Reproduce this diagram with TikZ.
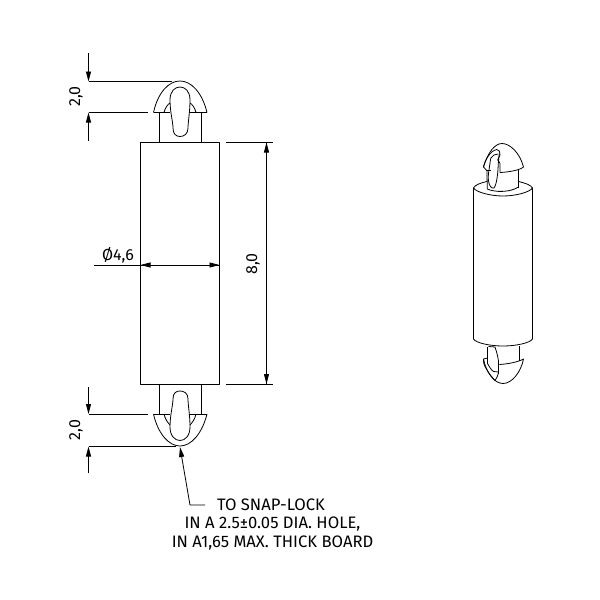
\documentclass[tikz,border=0pt]{standalone}
\usepackage{fontspec}
\setmainfont{Fira Sans}
\usetikzlibrary{arrows.meta}
\tikzset{
    part-line/.style = {draw=black, line width=0.8pt},
    dim-line/.style = {draw=black, line width=0.8pt},
    dim-arrow/.style = {dim-line, -{Stealth[length=10pt, width=5pt, inset=0pt]}},
    dim-text/.style = {font=\fontsize{16}{18}\selectfont, inner sep=0pt},
    note-text/.style = {font=\fontsize{16.6}{19}\selectfont, inner sep=0pt},
}
\begin{document}
\begin{tikzpicture}[x=1pt, y=-1pt, line join=round]
\useasboundingbox (0,0) rectangle (600,600);
% front view
\draw[part-line] (140.5,142.5) rectangle (219.5,384);
\draw[part-line] (159.5,142.5) -- (159.5,112.5) (201.5,142.5) -- (201.5,112.5);
\draw[part-line] (159.5,384) -- (159.5,414) (201.5,384) -- (201.5,414);
% top head
\draw[part-line] (153.5,112.5) -- (170,112.5) (190,112.5) -- (207,112.5);
\draw[part-line] (153.5,112.5) .. controls (158,92) and (169,81) .. (180,81) .. controls (191,81) and (202,92) .. (207,112.5);
\draw[part-line] (164,112.5) .. controls (165,108) and (168,104) .. (170,103) (196,112.5) .. controls (195,108) and (192,104) .. (190,103);
\draw[part-line] (170,100) .. controls (170,91) and (175,87) .. (180,87) .. controls (185,87) and (190,91) .. (190,100) .. controls (190,112) and (188,122) .. (188,128) .. controls (188,134) and (184,136.5) .. (180,136.5) .. controls (176,136.5) and (173,134) .. (173,128) .. controls (173,122) and (170,112) .. (170,100);
% bottom head
\draw[part-line] (153.5,414) -- (170,414) (190,414) -- (207,414);
\draw[part-line] (153.5,414) .. controls (158,434) and (169,446) .. (180,446) .. controls (191,446) and (202,434) .. (207,414);
\draw[part-line] (164,414) .. controls (165,419) and (168,423) .. (170,425) (196,414) .. controls (195,419) and (192,423) .. (190,425);
\draw[part-line] (170,427) .. controls (170,436) and (175,440.5) .. (180,440.5) .. controls (185,440.5) and (190,436) .. (190,427) .. controls (190,415) and (188,405) .. (188,399) .. controls (188,393) and (184,391) .. (180,391) .. controls (176,391) and (173,393) .. (173,399) .. controls (173,405) and (170,415) .. (170,427);
% dimensions
\coordinate (top-a) at (88.5,81.5);
\coordinate (top-b) at (88.5,112.5);
\coordinate (bot-a) at (88.5,414);
\coordinate (bot-b) at (88.5,446.5);
\draw[dim-line] (top-a) -- (172,81.5) (top-b) -- (148,112.5);
\draw[dim-line] (bot-a) -- (148,414) (bot-b) -- (176,446.5);
\draw[dim-arrow] (88.5,53) -- (top-a);
\draw[dim-arrow] (88.5,141) -- (top-b);
\draw[dim-arrow] (88.5,387) -- (bot-a);
\draw[dim-arrow] (88.5,473) -- (bot-b);
\node[dim-text, rotate=90] (dim-top) at (76,96.5) {2,0};
\node[dim-text, rotate=90] (dim-bot) at (76,430) {2,0};
\coordinate (len-a) at (266.5,142.5);
\coordinate (len-b) at (266.5,384);
\draw[dim-line] (226,142.5) -- (273,142.5) (226,384) -- (273,384);
\draw[dim-arrow] (len-a) -- (len-b);
\draw[dim-arrow] (len-b) -- (len-a);
\node[dim-text, rotate=90] (dim-len) at (253,264) {8,0};
\coordinate (dia-a) at (140.5,265);
\coordinate (dia-b) at (219.5,265);
\draw[dim-line] (94,265) -- (dia-a);
\draw[dim-arrow] (dia-a) -- (dia-b);
\draw[dim-arrow] (dia-b) -- (dia-a);
\node[dim-text] (dim-dia) at (118,255) {Ø4,6};
% note
\coordinate (note-tip) at (180,447);
\coordinate (note-bend) at (190,505);
\draw[dim-line, {Stealth[length=10pt, width=5pt, inset=0pt]}-] (note-tip) -- (note-bend) -- (205,505);
\node[note-text] (note-a) at (271,505) {TO SNAP-LOCK};
\node[note-text] (note-b) at (272.5,524) {IN A 2.5±0.05 DIA. HOLE,};
\node[note-text] (note-c) at (272.5,543) {IN A1,65 MAX. THICK BOARD};
% side view
\draw[part-line] (473.5,188) -- (473.5,339) (532.5,188) -- (532.5,339);
\draw[part-line] (473.5,188) .. controls (476,192) and (490,196) .. (503,196) .. controls (516,196) and (530,192) .. (532.5,188);
\draw[part-line] (473.5,188) .. controls (475,185) and (480,183) .. (487,181.5) (518.5,181.5) .. controls (525,183) and (531,185) .. (532.5,188);
\draw[part-line] (473.5,339) .. controls (476,343) and (490,346) .. (503,346) .. controls (516,346) and (530,343) .. (532.5,339);
% side view, top head
\draw[part-line] (518.5,188) -- (518.5,170);
\draw[part-line] (487.3,189) .. controls (495,192.5) and (510,192.5) .. (518.5,187);
\draw[part-line] (483.5,167) .. controls (488,152) and (495,143.5) .. (502,143.5) .. controls (510,143.5) and (520,153) .. (523.5,167) .. controls (520,170) and (510,172) .. (500,172.5);
\draw[part-line] (483.5,167) .. controls (485,160) and (490,151) .. (496.7,149.5) .. controls (499,149.5) and (500.5,152) .. (500,155) .. controls (499.5,157) and (498,158.5) .. (497.7,160) .. controls (498,161) and (500,162) .. (500,163.5) -- (500,172.5);
\draw[part-line] (490.7,158.3) .. controls (489,170) and (487.5,178) .. (488.5,181) .. controls (489,186) and (492,189) .. (494,188) .. controls (497,184) and (498,172) .. (498.3,163.3) .. controls (498.5,160) and (499,156) .. (499.3,153.3);
\draw[part-line] (490.7,158.3) .. controls (492,155.5) and (495,154) .. (498,154);
\draw[part-line] (483.5,167) -- (486.9,170.7) -- (487.3,189);
\draw[part-line] (486.9,170) -- (491,170);
% side view, bottom head
\draw[part-line] (519,346) -- (519,360.5) (487.5,346.5) -- (487.5,363.5);
\draw[part-line] (495,347) -- (488.5,346.5);
\draw[part-line] (483.5,359) .. controls (486,372) and (494,383.5) .. (503,383.5) .. controls (512,383.5) and (521,372) .. (523.5,359) .. controls (518,362) and (508,364) .. (499.5,364.5);
\draw[part-line] (495,347) .. controls (497,353) and (499,360) .. (498.5,365) -- (498.5,373) .. controls (498,376) and (496,379) .. (495,380.5);
\draw[part-line] (487.5,363.5) .. controls (489,366) and (491,370) .. (493.5,371.5) -- (498.5,372);
\draw[part-line] (483.5,359) .. controls (483,362) and (484,364) .. (485,366.5) .. controls (487,370) and (490,375) .. (492,377) -- (495,380.5);
\draw[part-line] (483.5,359) -- (487.5,358);
\end{tikzpicture}
\end{document}
